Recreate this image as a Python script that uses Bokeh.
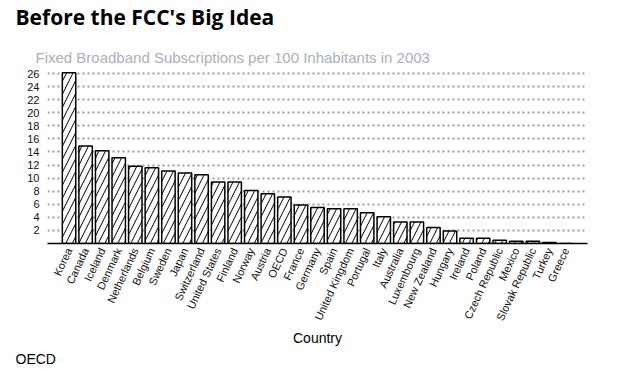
import math
from bokeh.plotting import figure
from bokeh.layouts import column
from bokeh.models import ColumnDataSource, FactorRange, FixedTicker, Title
from bokeh.embed import file_html
from bokeh.resources import INLINE

countries = ["Korea", "Canada", "Iceland", "Denmark", "Netherlands", "Belgium",
             "Sweden", "Japan", "Switzerland", "United States", "Finland",
             "Norway", "Austria", "OECD", "France", "Germany", "Spain",
             "United Kingdom", "Portugal", "Italy", "Australia", "Luxembourg",
             "New Zealand", "Hungary", "Ireland", "Poland", "Czech Republic",
             "Mexico", "Slovak Republic", "Turkey", "Greece"]
subscriptions = [26.1, 14.9, 14.2, 13.1, 11.8, 11.6, 11.1, 10.8, 10.5, 9.4, 9.4,
                 8.1, 7.6, 7.1, 5.9, 5.5, 5.3, 5.3, 4.7, 4.1, 3.3, 3.3,
                 2.45, 1.9, 0.8, 0.8, 0.5, 0.35, 0.35, 0.15, 0.0]
y_ticks = [2, 4, 6, 8, 10, 12, 14, 16, 18, 20, 22, 24, 26]

title_text = "Before the FCC's Big Idea"
series_name = "Fixed Broadband Subscriptions per 100 Inhabitants in 2003"
x_label = "Country"
source_text = "OECD"

# ---------- header: title ----------
head = figure(width=614, height=41, x_range=(0, 1), y_range=(0, 1),
              x_axis_location=None, y_axis_location=None,
              output_backend="svg", toolbar_location=None, title=title_text,
              min_border_left=0, min_border_right=0, min_border_top=0,
              min_border_bottom=0)
head.outline_line_color = None
head.grid.visible = False
head.title.text_font = "Open Sans"
head.title.text_font_size = "21px"
head.title.text_font_style = "bold"
head.title.text_color = "black"
head.title.offset = -32
head.title.standoff = 0

# ---------- main chart ----------
src = ColumnDataSource(dict(country=countries, value=subscriptions))

p = figure(width=614, height=324, title=None,
           x_range=FactorRange(factors=countries, range_padding=0.8,
                               range_padding_units="absolute"),
           y_range=(0, 26.46),
           output_backend="svg", toolbar_location=None,
           min_border_left=47, min_border_right=27, min_border_top=0,
           min_border_bottom=0)
p.outline_line_color = None
p.background_fill_color = "white"

p.vbar(x="country", top="value", width=0.81, source=src,
       fill_color="white", line_color="black", line_width=1.5,
       hatch_pattern="/", hatch_color="black", hatch_scale=13,
       hatch_weight=1)

series_title = Title(text=series_name, align="left", offset=-12, standoff=10,
                     text_font="Liberation Sans", text_font_size="15px",
                     text_font_style="normal", text_color="#a9b0bb")
p.add_layout(series_title, "above")

p.yaxis.ticker = FixedTicker(ticks=y_ticks)
p.yaxis.axis_line_color = None
p.yaxis.major_tick_line_color = None
p.yaxis.major_tick_out = 0
p.yaxis.major_tick_in = 0
p.yaxis.minor_tick_line_color = None
p.yaxis.major_label_text_font = "Liberation Sans"
p.yaxis.major_label_text_font_size = "11px"
p.yaxis.major_label_text_color = "#111111"
p.yaxis.major_label_standoff = 8

p.ygrid.grid_line_color = "#9a9a9a"
p.ygrid.grid_line_dash = "2 3"
p.ygrid.grid_line_width = 2
p.xgrid.grid_line_color = None

p.xaxis.axis_line_color = "black"
p.xaxis.axis_line_width = 1.5
p.xaxis.major_tick_line_color = None
p.xaxis.major_tick_out = 0
p.xaxis.major_tick_in = 0
p.xaxis.minor_tick_line_color = None
p.xaxis.major_label_orientation = math.radians(65)
p.xaxis.major_label_text_font = "Liberation Sans"
p.xaxis.major_label_text_font_size = "11px"
p.xaxis.major_label_text_color = "#111111"
p.xaxis.major_label_standoff = 5
p.xaxis.axis_label = x_label
p.xaxis.axis_label_text_font = "Liberation Sans"
p.xaxis.axis_label_text_font_size = "14px"
p.xaxis.axis_label_text_font_style = "normal"
p.xaxis.axis_label_text_color = "black"
p.xaxis.axis_label_standoff = 2

source_title = Title(text=source_text, align="left", offset=-32, standoff=-2,
                     vertical_align="bottom",
                     text_font="Liberation Sans", text_font_size="14px",
                     text_font_style="normal", text_color="black")
p.add_layout(source_title, "below")

layout = column(head, p, spacing=0)
open("out.html", "w").write(file_html(layout, INLINE))
